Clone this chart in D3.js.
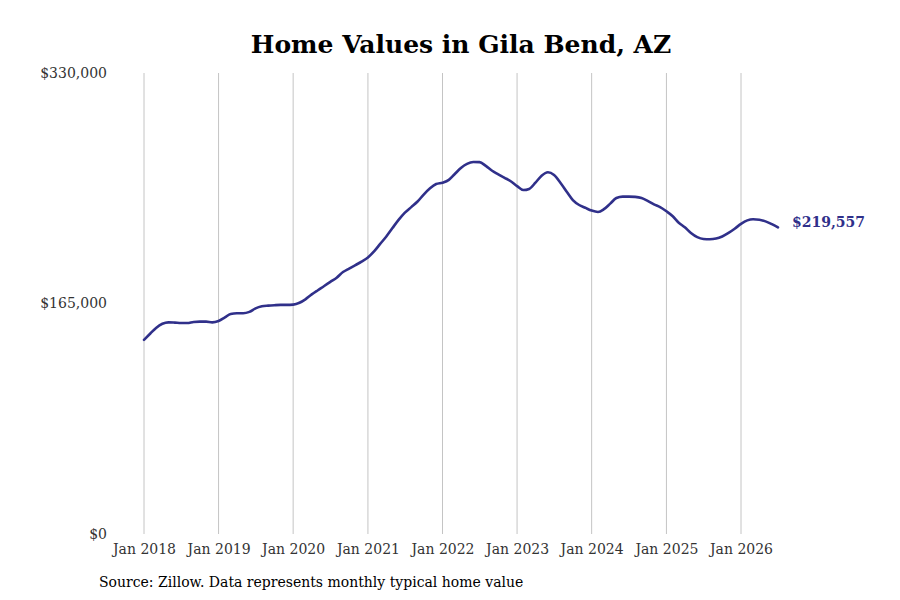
<!DOCTYPE html>
<html>
<head>
<meta charset="utf-8">
<script src="https://cdn.jsdelivr.net/npm/d3@7"></script>
<style>
  body { margin: 0; background: #fff; }
  svg { display: block; font-family: "DejaVu Serif", serif; }
</style>
</head>
<body>
<div id="chart"></div>
<script>
// Data: Zillow typical home value, monthly, Jan 2018 - Jul 2026
const startMonth = "2018-01"
const homeValues = [
  139000, 143500, 147500, 150500, 151500, 151300, 151000, 151000, 151800, 152000, 152000, 151500,
  152500, 155000, 157500, 158000, 158000, 159000, 161500, 163000, 163500, 163800, 164000, 164000,
  164200, 165500, 168000, 171500, 174500, 177500, 180500, 183500, 187500, 190000, 192500, 195000,
  198000, 202500, 207500, 213000, 219000, 225000, 230000, 234000, 238000, 243000, 247500, 250500,
  251500, 253500, 257500, 262000, 265000, 266300, 266200, 263500, 260000, 257500, 255000, 252500,
  249000, 246200, 247000, 251500, 256500, 259000, 257000, 251500, 245000, 239000, 235500, 233500,
  231500, 230500, 232500, 236500, 240500, 241500, 241500, 241300, 240500, 238500, 236000, 234000,
  231000, 227500, 223000, 219500, 215500, 212500, 211200, 211000, 211500, 213000, 215500, 218500,
  222000, 224500, 225300, 225000, 223800, 221800, 219557
]
const yTicks = [0, 165000, 330000]
const xTickYears = [2018, 2019, 2020, 2021, 2022, 2023, 2024, 2025, 2026]
const title = "Home Values in Gila Bend, AZ"
const source = "Source: Zillow. Data represents monthly typical home value"

const width = 900
const height = 600
const margin = { top: 73, right: 159, bottom: 66, left: 144 }
const lineColor = "#30308a"

const parseMonth = d3.timeParse("%Y-%m")
const t0 = parseMonth(startMonth)
const data = homeValues.map((v, i) => ({ date: d3.timeMonth.offset(t0, i), value: v }))

const svg = d3.select("#chart").append("svg")
  .attr("width", width)
  .attr("height", height)

// x: Jan 2018 .. Jan 2026 span the tick grid
const x = d3.scaleTime()
  .domain([new Date(2018, 0, 1), new Date(2026, 0, 1)])
  .range([144, 741])

const y = d3.scaleLinear()
  .domain([0, 330000])
  .range([height - margin.bottom, margin.top])

// vertical grid lines
const xTicks = xTickYears.map(yr => new Date(yr, 0, 1))
svg.append("g")
  .selectAll("line")
  .data(xTicks)
  .join("line")
    .attr("x1", d => x(d))
    .attr("x2", d => x(d))
    .attr("y1", y(330000))
    .attr("y2", y(0))
    .attr("stroke", "#c4c4c4")
    .attr("stroke-width", 1)

// x axis labels
svg.append("g")
  .attr("transform", "translate(0," + y(0) + ")")
  .call(d3.axisBottom(x).tickValues(xTicks).tickFormat(d3.timeFormat("Jan %Y")).tickSize(0).tickPadding(10))
  .call(g => g.select(".domain").remove())
  .selectAll("text")
    .attr("fill", "#333")
    .style("font-family", "DejaVu Serif")
    .style("font-size", "14px")

// y axis labels
svg.append("g")
  .attr("transform", "translate(107,0)")
  .call(d3.axisLeft(y).tickValues(yTicks).tickFormat(d => "$" + d3.format(",")(d)).tickSize(0).tickPadding(0))
  .call(g => g.select(".domain").remove())
  .selectAll("text")
    .attr("fill", "#333")
    .style("font-family", "DejaVu Serif")
    .style("font-size", "14px")

// line
const line = d3.line()
  .x(d => x(d.date))
  .y(d => y(d.value))
  .curve(d3.curveMonotoneX)

svg.append("path")
  .datum(data)
  .attr("fill", "none")
  .attr("stroke", lineColor)
  .attr("stroke-width", 2.6)
  .attr("stroke-linejoin", "round")
  .attr("stroke-linecap", "round")
  .attr("d", line)

// end label
const last = data[data.length - 1]
svg.append("text")
  .attr("x", x(last.date) + 14)
  .attr("y", y(last.value) - 5)
  .attr("dy", "0.35em")
  .attr("fill", lineColor)
  .style("font-size", "14px")
  .style("font-weight", "bold")
  .text("$" + d3.format(",")(last.value))

// title
svg.append("text")
  .attr("x", 461)
  .attr("y", 53)
  .attr("text-anchor", "middle")
  .attr("fill", "#000")
  .style("font-size", "25px")
  .style("font-weight", "bold")
  .text(title)

// source
svg.append("text")
  .attr("x", 99)
  .attr("y", 587)
  .attr("fill", "#000")
  .style("font-size", "14px")
  .text(source)
</script>
</body>
</html>
